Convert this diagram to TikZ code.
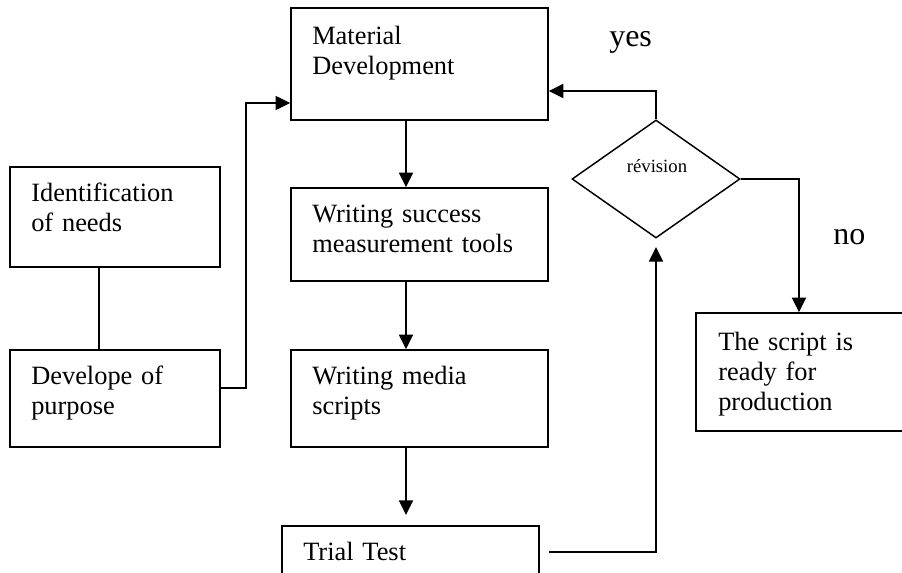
\documentclass[tikz,border=0pt]{standalone}
\usepackage{fontspec}
\setmainfont{Liberation Serif}
\usetikzlibrary{arrows.meta,shapes.geometric}
\begin{document}
\begin{tikzpicture}[x=0.75pt,y=-0.75pt,
  box/.style={draw,line width=1.1pt,inner sep=0pt,rectangle},
  txt/.style={anchor=base west,inner sep=0pt,align=left,text width=250pt,font=\fontsize{19.8}{22.5}\selectfont},
  lab/.style={anchor=base west,inner sep=0pt,font=\fontsize{24}{28}\selectfont},
  conn/.style={line width=1pt},
  arrK/.style={line width=1.5pt,-{Triangle[length=11pt,width=10.5pt]}},
  arrT/.style={line width=1pt,-{Triangle[length=11pt,width=10.5pt]}}]
\useasboundingbox (0,0) rectangle (902,573);
\clip (0,0) rectangle (902,573);
% boxes
\node[box,minimum width=192.75pt,minimum height=84pt] (mat) at (419.5,64) {};
\node[box,minimum width=157.5pt,minimum height=75pt] (ident) at (115,217) {};
\node[box,minimum width=157.5pt,minimum height=72.75pt] (devp) at (115,398.5) {};
\node[box,minimum width=192.75pt,minimum height=69.75pt] (ws) at (419.5,234.5) {};
\node[box,minimum width=192.75pt,minimum height=72.75pt] (wm) at (419.5,398.5) {};
\node[box,minimum width=192.75pt,minimum height=75pt] (trial) at (410.5,576) {};
\node[box,minimum width=198pt,minimum height=88.5pt] (script) at (828,372) {};
\node[draw,diamond,line width=1.1pt,inner sep=0pt,minimum width=126pt,minimum height=88.5pt] (rev) at (656,179) {};
% texts
\node[txt] (matT) at (312,45) {Material\\Development};
\node[txt] (identT) at (31,202) {Identification\\of needs};
\node[txt] (devpT) at (31,384) {Develope of\\purpose};
\node[txt] (wsT) at (312,223) {Writing success\\measurement tools};
\node[txt] (wmT) at (312,384) {Writing media\\scripts};
\node[txt] (trialT) at (303,560) {Trial Test};
\node[txt] (scriptT) at (718,350) {The script is\\ready for\\production};
\node[anchor=base,inner sep=0pt,font=\fontsize{14}{16}\selectfont] (revT) at (657,173) {révision};
\node[lab] (yes) at (609,47) {yes};
\node[lab] (no) at (833,245) {no};
% connectors
\draw[conn] ([xshift=-12pt]ident.south) -- ([xshift=-12pt]devp.north);
\coordinate (j1) at (246,388);
\coordinate (j2) at (246,103);
\draw[arrT] (devp.east |- j1) -- (j1) -- (j2) -- (j2 -| mat.west);
\coordinate (cx) at (406,0);
\draw[arrK] (mat.south -| cx) -- (ws.north -| cx);
\draw[arrK] (ws.south -| cx) -- (wm.north -| cx);
\coordinate (t1) at (406,515);
\draw[arrK] (wm.south -| cx) -- (t1);
\coordinate (k1) at (549,552);
\coordinate (k2) at (656,552);
\coordinate (k3) at (656,247);
\draw[arrK] (k1) -- (k2) -- (k3);
\coordinate (y1) at (656,91);
\draw[arrK] (rev.north) -- (y1) -- (y1 -| mat.east);
\coordinate (n1) at (799,179);
\draw[arrK] (rev.east) -- (n1) -- (n1 |- script.north);
\end{tikzpicture}
\end{document}
